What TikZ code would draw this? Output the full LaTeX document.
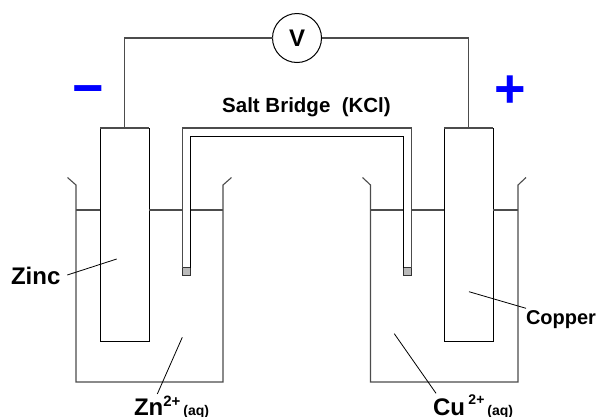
\documentclass[tikz,border=0pt]{standalone}
\usepackage{fontspec}
\setmainfont{Liberation Sans}
\newcommand{\fs}[1]{\fontsize{#1}{#1}\selectfont\bfseries}
\tikzset{
  x=1pt,y=-1pt,
  every path/.style={line width=1pt,line join=miter},
  wireline/.style={draw=black!70,line width=1.35pt},
  plate/.style={draw=black,fill=none,minimum width=49pt,minimum height=213pt,inner sep=0pt,outer sep=0pt},
  plug/.style={draw=black!80,fill=black!27,minimum width=8pt,minimum height=8pt,inner sep=0pt,outer sep=0pt},
  meter/.style={circle,draw=black,minimum size=49pt,inner sep=0pt,outer sep=0pt},
  lbl/.style={inner sep=0pt,outer sep=0pt,text=black},
  sign/.style={inner sep=0pt,outer sep=0pt,text=blue},
  leader/.style={draw=black,line width=0.8pt},
}
\begin{document}
\begin{tikzpicture}
\useasboundingbox (0,0) rectangle (599,416);
% plates and voltmeter
\node[meter] (V) at (297,38) {\fs{24}V};
\node[plate] (zn) at (124.8,234.5) {};
\node[plate] (cu) at (468.8,234.5) {};
\draw[wireline] (zn.north) |- (V.west);
\draw[wireline] (cu.north) |- (V.east);
\draw[wireline] (zn.north west) -- (zn.north east);
\draw[wireline] (cu.north west) -- (cu.north east);
% beakers
\draw[wireline,line width=1.1pt] (67.5,177.5) -- (76,185) -- (76,382) -- (223,382) -- (223,185) -- (231.5,177.5);
\draw[wireline,line width=1.1pt] (362.5,177.5) -- (370.5,185) -- (370.5,382) -- (518,382) -- (518,185) -- (526,177.5);
% liquid level
\draw[wireline] (76,210) -- (zn.west |- 0,210);
\draw[wireline] (zn.east |- 0,210) -- (182.5,210);
\draw[wireline] (190.5,210) -- (223,210);
\draw[wireline] (370.5,210) -- (403.5,210);
\draw[wireline] (411.5,210) -- (cu.west |- 0,210);
\draw[wireline] (cu.east |- 0,210) -- (518,210);
% salt bridge
\node[plug] (pl) at (186.5,271.5) {};
\node[plug] (pr) at (407.5,271.5) {};
\draw[wireline,line width=1.1pt] (pl.north west) -- (182.5,128) -- (411.5,128) -- (pr.north east);
\draw[black] (pl.north east) -- (190.5,136.5) -- (403.5,136.5) -- (pr.north west);
% labels
\node[lbl,anchor=base] (sb) at (306.5,112) {\fs{20.5}Salt Bridge\ \ (KCl)};
\node[sign] (minus) at (87.8,96) {\fontsize{54}{54}\selectfont\bfseries −};
\node[sign] (plus) at (510,92) {\fontsize{54}{54}\selectfont\bfseries +};
\node[lbl,anchor=base west] (zinc) at (11,284) {\fs{24}Zinc};
\node[lbl,anchor=base west] (copper) at (526,324) {\fs{20}Copper};
\node[lbl,anchor=base west] (zni) at (134,415) {\fs{24}Zn\raisebox{9pt}{\fs{15}2+}\kern3pt\fs{14}(aq)};
\node[lbl,anchor=base west] (cui) at (433,415) {\fs{24}Cu\kern3.5pt\raisebox{11pt}{\fs{14}2+}\kern3pt\fs{14}(aq)};
% leaders
\coordinate (zinctip) at (116.7,259);
\coordinate (coppertip) at (469,291.7);
\coordinate (znfree) at (182.3,337.3);
\coordinate (cufree) at (394.3,333.7);
\coordinate (zinctail) at (67.3,275);
\coordinate (coppertail) at (526,308.3);
\coordinate (zntail) at (157.3,394);
\coordinate (cutail) at (436,393.3);
\draw[leader] (zinctail) -- (zinctip);
\draw[leader] (coppertail) -- (coppertip);
\draw[leader] (zntail) -- (znfree);
\draw[leader] (cutail) -- (cufree);
\end{tikzpicture}
\end{document}
